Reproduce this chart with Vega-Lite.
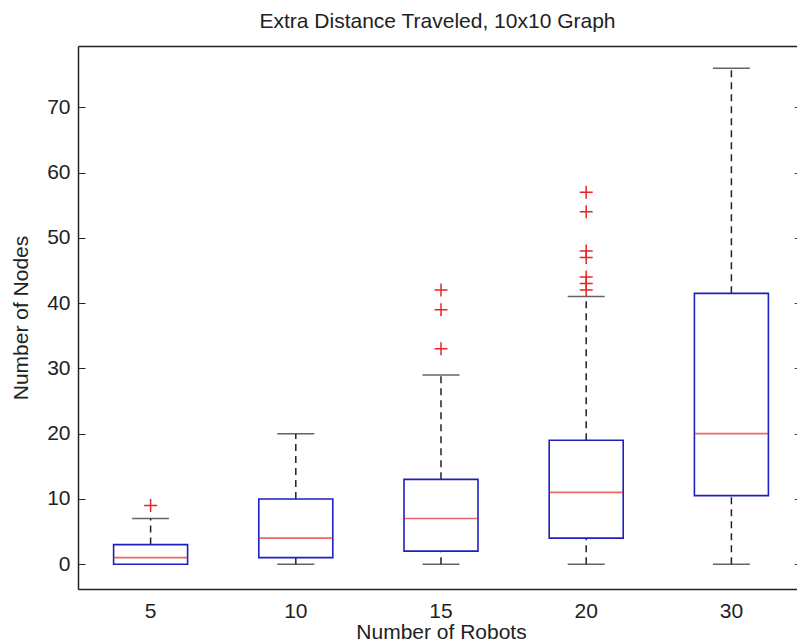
{
  "$schema": "https://vega.github.io/schema/vega-lite/v6.json",
  "width": 719,
  "height": 543,
  "autosize": "none",
  "padding": {"left": 78, "top": 46, "right": 0, "bottom": 55},
  "background": "white",
  "title": {
    "text": "Extra Distance Traveled, 10x10 Graph",
    "font": "Liberation Sans",
    "fontSize": 21,
    "fontWeight": "normal",
    "color": "#222222",
    "baseline": "alphabetic",
    "offset": -3,
    "anchor": "middle"
  },
  "datasets": {
    "stats": [
      {"robots": 5, "lower": 0, "q1": 0, "median": 1, "q3": 3, "upper": 7},
      {"robots": 10, "lower": 0, "q1": 1, "median": 4, "q3": 10, "upper": 20},
      {"robots": 15, "lower": 0, "q1": 2, "median": 7, "q3": 13, "upper": 29},
      {"robots": 20, "lower": 0, "q1": 4, "median": 11, "q3": 19, "upper": 41},
      {"robots": 30, "lower": 0, "q1": 10.5, "median": 20, "q3": 41.5, "upper": 76}
    ],
    "outliers": [
      {"robots": 5, "value": 9},
      {"robots": 15, "value": 33},
      {"robots": 15, "value": 39},
      {"robots": 15, "value": 42},
      {"robots": 20, "value": 42},
      {"robots": 20, "value": 43},
      {"robots": 20, "value": 44},
      {"robots": 20, "value": 47},
      {"robots": 20, "value": 48},
      {"robots": 20, "value": 54},
      {"robots": 20, "value": 57}
    ]
  },
  "layer": [
    {
      "data": {"name": "stats"},
      "mark": {"type": "rule", "color": "#222222", "strokeWidth": 1.5, "strokeDash": [7, 5]},
      "encoding": {
        "x": {
          "field": "robots", "type": "ordinal",
          "scale": {"type": "band", "range": [0, 726], "paddingInner": 0, "paddingOuter": 0},
          "axis": {
            "orient": "bottom", "title": "Number of Robots", "labelAngle": 0,
            "ticks": false, "labelPadding": 28, "labelBaseline": "alphabetic",
            "labelFont": "Liberation Sans", "labelFontSize": 21, "labelColor": "#222222",
            "titleFont": "Liberation Sans", "titleFontSize": 21, "titleFontWeight": "normal",
            "titleColor": "#222222", "titlePadding": 0,
            "domainColor": "#222222", "domainWidth": 1.5
          }
        },
        "y": {
          "field": "q3", "type": "quantitative",
          "scale": {"domain": [-3.8, 79.4], "nice": false, "zero": false},
          "axis": {
            "orient": "left", "title": "Number of Nodes", "values": [0, 10, 20, 30, 40, 50, 60, 70],
            "grid": false, "tickSize": -7, "tickColor": "#222222", "tickWidth": 1,
            "labelPadding": 15, "labelFont": "Liberation Sans", "labelFontSize": 21,
            "labelColor": "#222222", "titleFont": "Liberation Sans", "titleFontSize": 21,
            "titleFontWeight": "normal", "titleColor": "#222222", "titlePadding": 15,
            "domainColor": "#222222", "domainWidth": 1.5
          }
        },
        "y2": {"field": "upper"}
      }
    },
    {
      "data": {"name": "stats"},
      "mark": {"type": "rule", "color": "#222222", "strokeWidth": 1.5, "strokeDash": [7, 5]},
      "encoding": {
        "x": {
          "field": "robots", "type": "ordinal",
          "scale": {"type": "band", "range": [0, 726], "paddingInner": 0, "paddingOuter": 0},
          "axis": {
            "orient": "top", "title": null, "labels": false, "ticks": false,
            "domainColor": "#222222", "domainWidth": 1.5
          }
        },
        "y": {
          "field": "lower", "type": "quantitative",
          "axis": {
            "orient": "right", "title": null, "labels": false, "domain": false,
            "values": [0, 10, 20, 30, 40, 50, 60, 70], "grid": false,
            "tickSize": -3, "tickColor": "#444444"
          }
        },
        "y2": {"field": "q1"}
      }
    },
    {
      "data": {"name": "stats"},
      "mark": {"type": "tick", "color": "#222222", "size": 37, "thickness": 1.5},
      "encoding": {
        "x": {"field": "robots", "type": "ordinal", "scale": {"type": "band", "range": [0, 726], "paddingInner": 0, "paddingOuter": 0}, "axis": null},
        "y": {"field": "upper", "type": "quantitative", "axis": null}
      }
    },
    {
      "data": {"name": "stats"},
      "mark": {"type": "tick", "color": "#222222", "size": 37, "thickness": 1.5},
      "encoding": {
        "x": {"field": "robots", "type": "ordinal", "scale": {"type": "band", "range": [0, 726], "paddingInner": 0, "paddingOuter": 0}, "axis": null},
        "y": {"field": "lower", "type": "quantitative", "axis": null}
      }
    },
    {
      "data": {"name": "stats"},
      "mark": {"type": "bar", "fill": "white", "stroke": "#1f1fc0", "strokeWidth": 1.6, "size": 74},
      "encoding": {
        "x": {"field": "robots", "type": "ordinal", "scale": {"type": "band", "range": [0, 726], "paddingInner": 0, "paddingOuter": 0}, "axis": null},
        "y": {"field": "q1", "type": "quantitative", "axis": null},
        "y2": {"field": "q3"}
      }
    },
    {
      "data": {"name": "stats"},
      "mark": {"type": "tick", "color": "#e42626", "size": 74, "thickness": 1.6},
      "encoding": {
        "x": {"field": "robots", "type": "ordinal", "scale": {"type": "band", "range": [0, 726], "paddingInner": 0, "paddingOuter": 0}, "axis": null},
        "y": {"field": "median", "type": "quantitative", "axis": null}
      }
    },
    {
      "data": {"name": "outliers"},
      "mark": {"type": "point", "shape": "M-1,0L1,0M0,-1L0,1", "filled": false, "stroke": "#e42626", "strokeWidth": 1.5, "size": 169, "opacity": 1},
      "encoding": {
        "x": {"field": "robots", "type": "ordinal", "scale": {"type": "band", "range": [0, 726], "paddingInner": 0, "paddingOuter": 0}, "axis": null},
        "y": {"field": "value", "type": "quantitative", "axis": null}
      }
    }
  ],
  "resolve": {"axis": {"x": "independent", "y": "independent"}},
  "config": {"view": {"stroke": null}}
}
